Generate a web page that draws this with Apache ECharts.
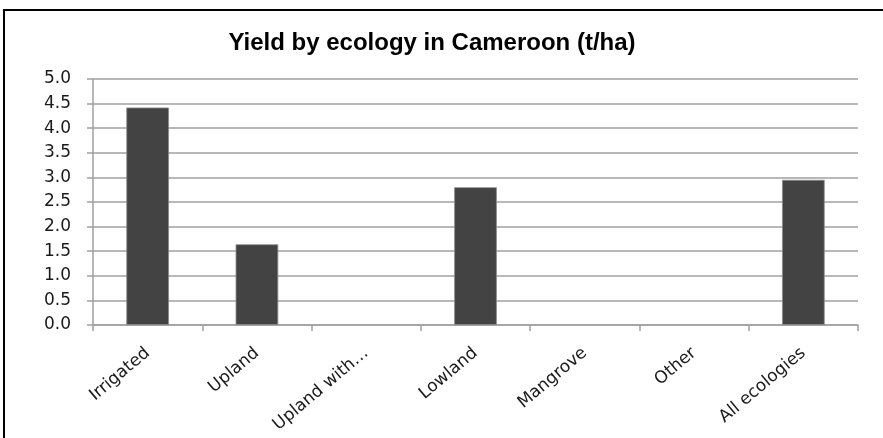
<!DOCTYPE html>
<html><head><meta charset="utf-8">
<script src="https://cdn.jsdelivr.net/npm/echarts@6/dist/echarts.min.js"></script>
<style>html,body{margin:0;padding:0;background:#fff}#c{width:883px;height:438px}</style>
</head><body><div id="c"></div>
<script>
var categories = ['Irrigated','Upland','Upland with…','Lowland','Mangrove','Other','All ecologies'];
var yields = [4.42, 1.64, null, 2.80, null, null, 2.95];
var yTicks = [0,0.5,1,1.5,2,2.5,3,3.5,4,4.5,5];
var titleText = 'Yield by ecology in Cameroon (t/ha)';

var chart = echarts.init(document.getElementById('c'), null, {renderer:'canvas'});
chart.setOption({
  animation:false,
  backgroundColor:'#fff',
  graphic:[{type:'rect',shape:{x:4,y:10,width:900,height:500},style:{fill:'none',stroke:'#000',lineWidth:2},silent:true}],
  title:{text:titleText,left:427,top:26,textAlign:'center',
    textStyle:{fontFamily:'Liberation Sans, Arial',fontWeight:'bold',fontSize:24,color:'#000'}},
  grid:{left:93,right:25,top:79,bottom:113,containLabel:false},
  xAxis:{type:'category',data:categories,
    axisLine:{lineStyle:{color:'#a0a0a0',width:1.5}},
    axisTick:{show:true,alignWithLabel:false,length:6,lineStyle:{color:'#a0a0a0',width:1.5}},
    axisLabel:{rotate:40,interval:0,margin:26,color:'#1a1a1a',fontFamily:'DejaVu Sans',fontSize:17},
    splitLine:{show:false}},
  yAxis:{type:'value',min:yTicks[0],max:yTicks[yTicks.length-1],interval:0.5,
    axisLine:{show:true,lineStyle:{color:'#a0a0a0',width:1.5}},
    axisTick:{show:true,length:6,lineStyle:{color:'#a0a0a0',width:1.5}},
    axisLabel:{formatter:function(v){return v.toFixed(1);},margin:22,color:'#1a1a1a',fontFamily:'DejaVu Sans',fontSize:17},
    splitLine:{show:true,lineStyle:{color:'#a0a0a0',width:1.5}}},
  series:[{type:'bar',data:yields,barWidth:'39%',
    itemStyle:{color:'#434343',borderColor:'#8a8a8a',borderWidth:0.8}}]
});
</script></body></html>
